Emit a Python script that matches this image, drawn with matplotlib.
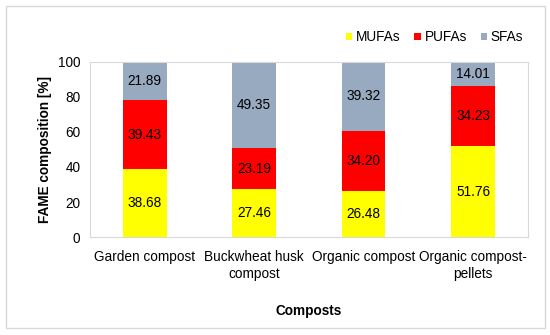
import matplotlib.pyplot as plt
import numpy as np
from matplotlib.patches import Rectangle

plt.rcParams['font.family'] = ['Liberation Sans', 'DejaVu Sans']

categories = ['Garden compost', 'Buckwheat husk\ncompost', 'Organic compost', 'Organic compost-\npellets']
mufa = [38.68, 27.46, 26.48, 51.76]
pufa = [39.43, 23.19, 34.20, 34.23]
sfa = [21.89, 49.35, 39.32, 14.01]
series = ['MUFAs', 'PUFAs', 'SFAs']
colors = ['#FFFF00', '#FF0000', '#98AABF']

fs = 9.8

fig = plt.figure(figsize=(5.5, 3.35), dpi=100)
# plot area in figure fractions
ax = fig.add_axes([0.1636, 0.2925, 0.796, 0.5225])

x = np.arange(len(categories))
bottom = np.zeros(len(categories))
for name, vals, c in zip(series, [mufa, pufa, sfa], colors):
    vals = np.array(vals)
    ax.bar(x, vals, 0.40, bottom=bottom, color=c, label=name)
    for xi, b, v in zip(x, bottom, vals):
        ax.text(xi, b + v / 2, f'{v:.2f}', ha='center', va='center', fontsize=fs)
    bottom = bottom + vals

ax.set_xlim(-0.5, 3.5)
ax.set_ylim(0, 100)
ax.set_yticks([0, 20, 40, 60, 80, 100])
ax.set_xticks(x)
ax.set_xticklabels(categories, fontsize=fs, linespacing=1.3)
ax.tick_params(axis='y', labelsize=fs, length=0, pad=7)
ax.tick_params(axis='x', length=0, pad=9)
for s in ax.spines.values():
    s.set_color('#D9D9D9')
ax.set_ylabel('FAME composition [%]', fontsize=fs, fontweight='bold', labelpad=4)
ax.set_xlabel('Composts', fontsize=fs, fontweight='bold', labelpad=17)

ax.legend(loc='center right', bbox_to_anchor=(0.99, 1.14), ncol=3, frameon=False,
          fontsize=fs, handlelength=0.45, handleheight=0.45, handletextpad=0.3,
          columnspacing=1.0, borderaxespad=0, borderpad=0)

fig.patches.append(Rectangle((6 / 550, 7 / 335), 539 / 550, 322 / 335, transform=fig.transFigure,
                             fill=False, edgecolor='#D9D9D9', lw=1))

fig.savefig('out.png', dpi=100)
